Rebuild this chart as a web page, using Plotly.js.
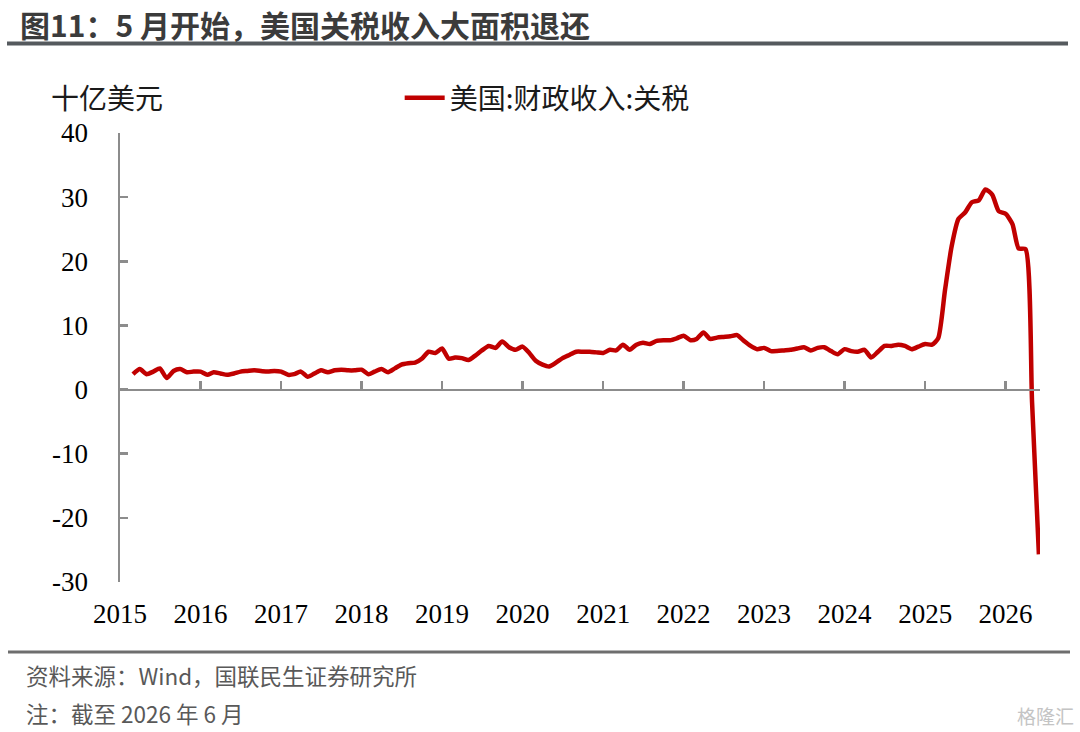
<!DOCTYPE html>
<html>
<head>
<meta charset="utf-8">
<script src="https://cdn.plot.ly/plotly-3.0.1.min.js"></script>
<style>
html,body{margin:0;padding:0;background:#fff;}
#chart{width:1080px;height:732px;}
</style>
</head>
<body>
<div id="chart"></div>
<script>
// Monthly US customs duties (billion USD)
const startMonth = '2015-03';
const v2015 = [2.4, 3.2, 2.4, 2.8, 3.3, 1.8, 2.9, 3.2, 2.7, 2.8];
const v2016 = [2.8, 2.3, 2.7, 2.5, 2.3, 2.5, 2.8, 2.9, 3.0, 2.9, 2.8, 2.9];
const v2017 = [2.8, 2.3, 2.4, 2.8, 2.0, 2.5, 3.0, 2.7, 3.0, 3.1, 3.0, 3.0];
const v2018 = [3.1, 2.4, 2.8, 3.2, 2.7, 3.3, 3.9, 4.1, 4.2, 4.8, 5.9, 5.7];
const v2019 = [6.4, 4.8, 5.0, 4.9, 4.6, 5.3, 6.1, 6.8, 6.5, 7.5, 6.6, 6.2];
const v2020 = [6.7, 5.7, 4.5, 3.9, 3.6, 4.2, 4.9, 5.4, 5.9, 5.9, 5.9, 5.8];
const v2021 = [5.7, 6.2, 6.1, 7.0, 6.2, 7.0, 7.3, 7.1, 7.6, 7.7, 7.7, 8.0];
const v2022 = [8.4, 7.7, 7.9, 8.9, 7.9, 8.1, 8.2, 8.3, 8.5, 7.6, 6.8, 6.3];
const v2023 = [6.5, 6.0, 6.0, 6.1, 6.2, 6.4, 6.6, 6.1, 6.5, 6.6, 6.0, 5.5];
const v2024 = [6.3, 6.0, 5.9, 6.2, 5.0, 5.9, 6.8, 6.8, 7.0, 6.8, 6.3, 6.7];
const v2025 = [7.1, 7.0, 8.0, 15.5, 22.3, 26.6, 27.6, 29.2, 29.5, 31.2, 30.4, 27.8];
const v2026 = [27.4, 25.8, 22.0, 21.9, -2.0, -25.7];

const yearTicks = ['2015','2016','2017','2018','2019','2020','2021','2022','2023','2024','2025','2026'];
const yTicks = [-30, -20, -10, 0, 10, 20, 30, 40];
const yTickText = ['-30', '-20', '-10', '0', '10', '20', '30', '40'];

const seriesName = '美国:财政收入:关税';
const unitLabel = '十亿美元';
const titleText = '图11：5 月开始，美国关税收入大面积退还';
const source = '资料来源：Wind，国联民生证券研究所';
const note = '注：截至 2026 年 6 月';

const values = [].concat(v2015, v2016, v2017, v2018, v2019, v2020, v2021, v2022, v2023, v2024, v2025, v2026);
const dates = [];
{
  let y = parseInt(startMonth.slice(0,4)), m = parseInt(startMonth.slice(5,7));
  for (let i = 0; i < values.length; i++) {
    dates.push(y + '-' + String(m).padStart(2,'0') + '-01');
    m++; if (m > 12) { m = 1; y++; }
  }
}
const tickDates = yearTicks.map(t => t + '-01-01');

const GRAY = '#8c8c8c';
const serif = 'Liberation Serif, Times New Roman, serif';
const cjk = 'Noto Sans CJK SC, sans-serif';

const traces = [
  {
    x: dates, y: values, type: 'scatter', mode: 'lines', name: seriesName,
    line: {color: '#C00000', width: 4.5, shape: 'spline', smoothing: 0.6},
    cliponaxis: false, hoverinfo: 'skip'
  },
  {
    x: dates, y: values, xaxis: 'x2', type: 'scatter', mode: 'lines',
    line: {color: 'rgba(0,0,0,0)', width: 0}, showlegend: false, hoverinfo: 'skip'
  }
];

const layout = {
  width: 1080, height: 732,
  paper_bgcolor: '#ffffff', plot_bgcolor: '#ffffff',
  margin: {l: 120, r: 40, t: 133, b: 150},
  showlegend: true,
  legend: {
    x: 0.304, y: 1.078, xanchor: 'left', yanchor: 'middle',
    orientation: 'h', bgcolor: 'rgba(0,0,0,0)',
    font: {family: cjk, size: 28, color: '#1a1a1a'},
    itemwidth: 40
  },
  title: {
    text: '<b>' + titleText + '</b>',
    font: {family: cjk, size: 30, color: '#3b3b3b'},
    x: 20/1080, xanchor: 'left', xref: 'container',
    y: 1 - 26/732, yanchor: 'middle', yref: 'container'
  },
  xaxis: {
    type: 'date',
    range: ['2015-01-01', '2026-06-06'],
    tickvals: tickDates, ticktext: yearTicks,
    showline: false, ticks: '', showgrid: false, zeroline: false,
    tickfont: {family: serif, size: 27, color: '#000000'},
    ticklabelstandoff: 13
  },
  xaxis2: {
    type: 'date', overlaying: 'x', matches: 'x',
    anchor: 'free', position: 30/70, side: 'bottom',
    range: ['2015-01-01', '2026-06-06'],
    tickvals: tickDates, showticklabels: false,
    showline: true, linecolor: GRAY, linewidth: 2.5,
    ticks: 'inside', ticklen: 8, tickwidth: 2.5, tickcolor: GRAY,
    showgrid: false, zeroline: false
  },
  yaxis: {
    range: [-30, 40], tickvals: yTicks, ticktext: yTickText,
    showline: true, linecolor: GRAY, linewidth: 2.5,
    ticks: 'inside', ticklen: 8, tickwidth: 2.5, tickcolor: GRAY,
    showgrid: false, zeroline: false,
    tickfont: {family: serif, size: 27, color: '#000000'},
    ticklabelstandoff: 24
  },
  shapes: [
    {type: 'line', xref: 'paper', yref: 'paper',
     x0: (7-120)/920, x1: (1068-120)/920, y0: (582-43.5)/449, y1: (582-43.5)/449,
     line: {color: '#555a5e', width: 4}},
    {type: 'line', xref: 'paper', yref: 'paper',
     x0: (8-120)/920, x1: (1070-120)/920, y0: (582-652)/449, y1: (582-652)/449,
     line: {color: '#6e6e6e', width: 3}}
  ],
  annotations: [
    {text: unitLabel, xref: 'paper', yref: 'paper', x: (49-120)/920, y: (582-97)/449,
     xanchor: 'left', yanchor: 'middle', showarrow: false,
     font: {family: cjk, size: 28, color: '#1a1a1a'}},
    {text: source, xref: 'paper', yref: 'paper', x: (24-120)/920, y: (582-675)/449,
     xanchor: 'left', yanchor: 'middle', showarrow: false,
     font: {family: cjk, size: 22.5, color: '#595959'}},
    {text: note, xref: 'paper', yref: 'paper', x: (24-120)/920, y: (582-713)/449,
     xanchor: 'left', yanchor: 'middle', showarrow: false,
     font: {family: cjk, size: 22.5, color: '#595959'}},
    {text: '格隆汇', xref: 'paper', yref: 'paper', x: (1076-120)/920, y: (582-715)/449,
     xanchor: 'right', yanchor: 'middle', showarrow: false,
     font: {family: cjk, size: 19, color: '#c4c4c4'}}
  ]
};

Plotly.newPlot('chart', traces, layout, {staticPlot: true, displayModeBar: false});
</script>
</body>
</html>
